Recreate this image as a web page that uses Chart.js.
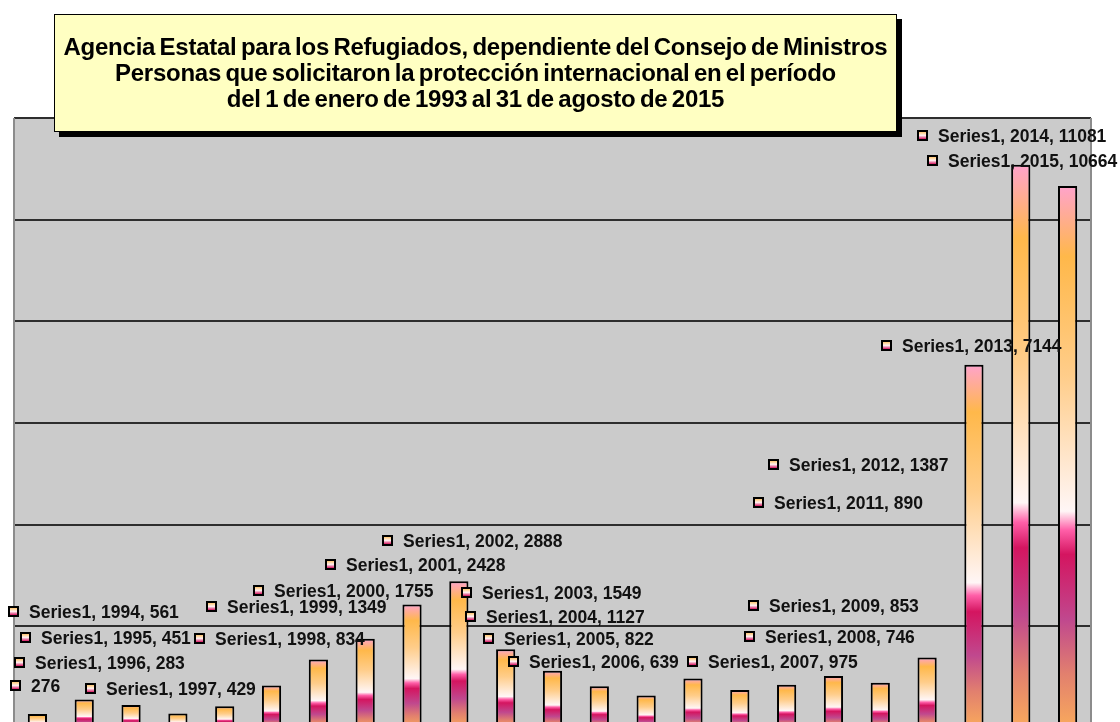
<!DOCTYPE html>
<html lang="es">
<head>
<meta charset="UTF-8">
<title>Agencia Estatal para los Refugiados</title>
<script src="https://cdn.jsdelivr.net/npm/chart.js"></script>
<style>
    html, body { margin: 0; padding: 0; background: #fff; overflow: hidden; }
    #wrap { position: relative; width: 1120px; height: 740px; }
    #titulo {
        position: absolute; left: 54px; top: 14px; width: 841px; height: 116px;
        background: #ffffc2; border: 1px solid #000; box-shadow: 5px 5px 0 #000;
        font-family: "Liberation Sans", Arial, sans-serif; font-weight: bold;
        font-size: 24px; line-height: 26px; letter-spacing: -0.25px; word-spacing: -2px;
        text-align: center; color: #000;
    }
    #titulo .l1 { margin-top: 19px; }
</style>
</head>
<body>
<div id="wrap">
    <canvas id="refugiados" width="1120" height="740"></canvas>
    <div id="titulo">
        <div class="l1">Agencia Estatal para los Refugiados, dependiente del Consejo de Ministros</div>
        <div>Personas que solicitaron la protección internacional en el período</div>
        <div>del 1 de enero de 1993 al 31 de agosto de 2015</div>
    </div>
</div>
<script>
    // datos
    const anios = ["1993", "1994", "1995", "1996", "1997", "1998", "1999", "2000", "2001", "2002", "2003", "2004",
                   "2005", "2006", "2007", "2008", "2009", "2010", "2011", "2012", "2013", "2014", "2015"];
    const solicitudes = [276, 561, 451, 283, 429, 834, 1349, 1755, 2428, 2888, 1549, 1127,
                         822, 639, 975, 746, 853, 1025, 890, 1387, 7144, 11081, 10664];
    const serie = "Series1";
    const ticksY = [0, 2000, 4000, 6000, 8000, 10000, 12000];

    // donde quedaron las etiquetas (centro del cuadrito), null = sin etiqueta
    const posEtiquetas = [
        [15, 685, "corta"], [13, 611], [25, 637], [19, 662], [90, 688], [199, 638], [211, 606], [258, 590],
        [330, 564], [387, 540], [466, 592], [470, 616], [488, 638], [513, 661], [692, 661], [749, 636],
        [753, 605], null, [758, 502], [773, 464], [886, 345], [922, 135], [932, 160]
    ];

    function degradadoBarra(ctx, top, bot) {
        const g = ctx.createLinearGradient(0, top, 0, bot);
        g.addColorStop(0.00, "#ffa3cc");
        g.addColorStop(0.13, "#ffb84a");
        g.addColorStop(0.35, "#ffcd8a");
        g.addColorStop(0.60, "#fff6f6");
        g.addColorStop(0.635, "#ff5fa8");
        g.addColorStop(0.68, "#d41560");
        g.addColorStop(0.80, "#c0488e");
        g.addColorStop(0.90, "#e2806e");
        g.addColorStop(1.00, "#f9aa5c");
        return g;
    }

    const fondo = {
        id: "fondo",
        beforeDraw(chart) {
            const { ctx, chartArea: a } = chart;
            ctx.save();
            ctx.fillStyle = "#cbcbcb";
            ctx.fillRect(a.left, a.top, a.right - a.left, a.bottom - a.top);
            ctx.restore();
        },
        beforeDatasetsDraw(chart) {
            const { ctx, chartArea: a } = chart;
            ctx.save();
            ctx.strokeStyle = "#8c8c8c";
            ctx.lineWidth = 2;
            ctx.beginPath();
            ctx.moveTo(a.left, a.top); ctx.lineTo(a.left, a.bottom);
            ctx.moveTo(a.right, a.top); ctx.lineTo(a.right, a.bottom);
            ctx.stroke();
            ctx.restore();
        }
    };

    const etiquetas = {
        id: "etiquetas",
        afterDatasetsDraw(chart) {
            const ctx = chart.ctx;
            ctx.save();
            ctx.font = "bold 17.5px 'Liberation Sans', Arial, sans-serif";
            ctx.textBaseline = "alphabetic";
            anios.forEach((anio, i) => {
                const p = posEtiquetas[i];
                if (!p) return;
                const [cx, cy, tipo] = p;
                // cuadrito de leyenda
                const g = ctx.createLinearGradient(0, cy - 4, 0, cy + 4);
                g.addColorStop(0, "#ffb84a");
                g.addColorStop(0.55, "#fff2f2");
                g.addColorStop(1, "#d41560");
                ctx.fillStyle = g;
                ctx.fillRect(cx - 4, cy - 4, 9, 9);
                ctx.strokeStyle = "#000";
                ctx.lineWidth = 2;
                ctx.strokeRect(cx - 4, cy - 4, 9, 9);
                ctx.fillStyle = "#111";
                const txt = tipo === "corta" ? String(solicitudes[i])
                                             : serie + ", " + anio + ", " + solicitudes[i];
                ctx.fillText(txt, cx + 16, cy + 7);
            });
            ctx.restore();
        }
    };

    new Chart(document.getElementById("refugiados"), {
        type: "bar",
        data: {
            labels: anios,
            datasets: [{
                label: serie,
                data: solicitudes,
                backgroundColor: (c) => {
                    const chart = c.chart;
                    if (!chart.chartArea || c.type !== "data") return "#ffb84a";
                    const y = chart.scales.y;
                    return degradadoBarra(chart.ctx, y.getPixelForValue(c.raw), y.getPixelForValue(0));
                },
                borderColor: "#000",
                borderWidth: 2,
                borderSkipped: false,
                barPercentage: 0.41,
                categoryPercentage: 1.0
            }]
        },
        options: {
            responsive: false,
            animation: false,
            events: [],
            layout: { padding: { left: 14, right: 29, top: 118, bottom: 12 } },
            plugins: { legend: { display: false }, tooltip: { enabled: false }, title: { display: false } },
            scales: {
                x: { display: false },
                y: {
                    min: ticksY[0], max: ticksY[ticksY.length - 1],
                    afterBuildTicks: (s) => { s.ticks = ticksY.map(v => ({ value: v })); },
                    ticks: { display: false },
                    border: { display: false },
                    grid: { color: "#2e2e2e", lineWidth: 2, drawTicks: false }
                }
            }
        },
        plugins: [fondo, etiquetas]
    });
</script>
</body>
</html>
